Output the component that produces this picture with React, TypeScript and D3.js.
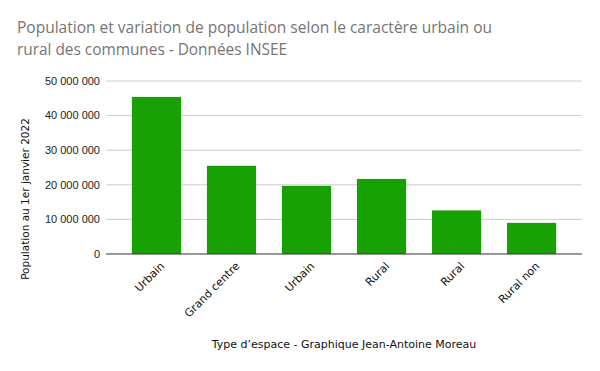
import React, { useEffect, useRef } from "react";
import * as d3 from "d3";

const categories = ["Urbain", "Grand centre", "Urbain", "Rural", "Rural", "Rural non"];
const populations = [45400000, 25500000, 19700000, 21700000, 12600000, 9000000];
const yTicks = [0, 10000000, 20000000, 30000000, 40000000, 50000000];
const titleLines = [
  "Population et variation de population selon le caractère urbain ou",
  "rural des communes - Données INSEE",
];

const W = 600;
const H = 371;
const margin = { top: 81, right: 18, bottom: 117, left: 106 };

const fmt = (v: number) => d3.format(",")(v).replace(/,/g, " ");

const App = () => {
  const ref = useRef<SVGSVGElement>(null);

  useEffect(() => {
    const svg = d3.select(ref.current);
    svg.selectAll("*").remove();

    const x = d3
      .scaleBand<number>()
      .domain(categories.map((_, i) => i))
      .range([margin.left, W - margin.right])
      .padding(0.345);

    const y = d3
      .scaleLinear()
      .domain([0, 50000000])
      .range([H - margin.bottom, margin.top]);

    svg.append("rect").attr("width", W).attr("height", H).attr("fill", "#fff");

    // title
    svg
      .selectAll(".title")
      .data(titleLines)
      .enter()
      .append("text")
      .attr("x", 17)
      .attr("y", (_, i) => 33 + i * 22)
      .attr("font-family", "Open Sans")
      .attr("font-size", 17)
      .attr("fill", "#757575")
      .attr("textLength", (_, i) => (i === 0 ? 475 : 270))
      .attr("lengthAdjust", "spacingAndGlyphs")
      .text((d) => d);

    // grid
    svg
      .append("g")
      .selectAll("line")
      .data(yTicks.slice(1))
      .enter()
      .append("line")
      .attr("x1", margin.left)
      .attr("x2", W - margin.right)
      .attr("y1", (d) => y(d))
      .attr("y2", (d) => y(d))
      .attr("stroke", "#cccccc")
      .attr("stroke-width", 1);

    // y tick labels
    svg
      .append("g")
      .selectAll("text")
      .data(yTicks)
      .enter()
      .append("text")
      .attr("x", margin.left - 6)
      .attr("y", (d) => y(d))
      .attr("dy", "0.35em")
      .attr("text-anchor", "end")
      .attr("font-family", "Liberation Sans")
      .attr("font-size", 11)
      .attr("fill", "#222")
      .text((d) => fmt(d));

    // bars
    svg
      .append("g")
      .selectAll("rect")
      .data(populations)
      .enter()
      .append("rect")
      .attr("x", (_, i) => x(i)!)
      .attr("y", (d) => y(d))
      .attr("width", x.bandwidth())
      .attr("height", (d) => y(0) - y(d))
      .attr("fill", "#18a102");

    // baseline
    svg
      .append("line")
      .attr("x1", margin.left)
      .attr("x2", W - margin.right)
      .attr("y1", y(0))
      .attr("y2", y(0))
      .attr("stroke", "#333")
      .attr("stroke-width", 1);

    // x labels
    svg
      .append("g")
      .selectAll("text")
      .data(categories)
      .enter()
      .append("text")
      .attr(
        "transform",
        (_, i) => `translate(${x(i)! + x.bandwidth() / 2 + 6},${y(0) + 10}) rotate(-45)`
      )
      .attr("text-anchor", "end")
      .attr("dy", "0.35em")
      .attr("font-family", "DejaVu Sans")
      .attr("font-size", 11)
      .attr("fill", "#111")
      .text((d) => d);

    // axis titles
    svg
      .append("text")
      .attr("x", (margin.left + W - margin.right) / 2)
      .attr("y", 348)
      .attr("text-anchor", "middle")
      .attr("font-family", "DejaVu Sans")
      .attr("font-size", 11)
      .attr("fill", "#111")
      .text("Type d’espace - Graphique Jean-Antoine Moreau");

    svg
      .append("text")
      .attr("transform", "translate(29,199) rotate(-90)")
      .attr("text-anchor", "middle")
      .attr("font-family", "DejaVu Sans")
      .attr("font-size", 10.5)
      .attr("fill", "#111")
      .text("Population au 1er janvier 2022");
  }, []);

  return (
    <svg
      ref={ref}
      width={W}
      height={H}
      style={{ position: "absolute", left: 0, top: 0 }}
    ></svg>
  );
};

export default App;
